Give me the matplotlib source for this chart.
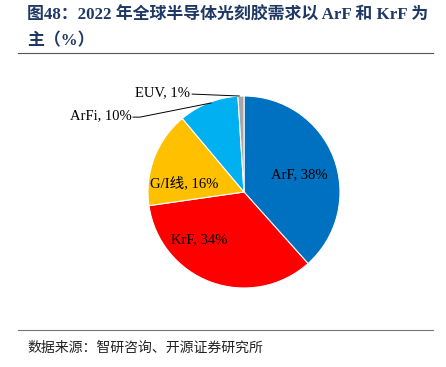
import matplotlib
matplotlib.use("Agg")
import matplotlib.pyplot as plt

labels = ["ArF", "KrF", "G/I线", "ArFi", "EUV"]
values = [38, 34, 16, 10, 1]
colors = ["#0070C0", "#FF0000", "#FFC000", "#00B0F0", "#A6A6A6"]

serif = ["Liberation Serif", "Noto Sans CJK SC"]
cjk = ["Noto Sans CJK SC", "Liberation Serif"]

fig = plt.figure(figsize=(4.46, 3.67), dpi=100)
W, H = 446, 367

def fx(x): return x / W
def fy(y): return 1 - y / H

# title
fig.text(fx(27), fy(16), "图48：2022 年全球半导体光刻胶需求以 ArF 和 KrF 为", fontsize=12.2,
         fontweight="bold", color="#1F3864", family=serif, va="center", ha="left")
fig.text(fx(27), fy(41), "主（%）", fontsize=12.2, fontweight="bold", color="#1F3864",
         family=serif, va="center", ha="left")
fig.add_artist(plt.Line2D([fx(18), fx(433)], [fy(53), fy(53)], color="#555555", lw=0.8))
fig.add_artist(plt.Line2D([fx(18), fx(433)], [fy(330), fy(330)], color="#777777", lw=0.8))
fig.text(fx(27), fy(348), "数据来源：智研咨询、开源证券研究所", fontsize=10, color="#222222",
         family=cjk, va="center", ha="left")

# pie
r = 96
cx, cy = 244, 192
ax = fig.add_axes([fx(cx - r), fy(cy + r), 2 * r / W, 2 * r / H])
wedges, _ = ax.pie(values, colors=colors, startangle=90, counterclock=False,
                   wedgeprops=dict(edgecolor="white", linewidth=0.8))
ax.set_aspect("equal")
ax.set_xlim(-1, 1)
ax.set_ylim(-1, 1)

def lab(i):
    return f"{labels[i]}, {values[i]}%"

fs = 10.5
ax.text(0.58, 0.18, lab(0), fontsize=fs, family=serif, ha="center", va="center")
ax.text(-0.47, -0.5, lab(1), fontsize=fs, family=serif, ha="center", va="center")
ax.text(-0.62, 0.09, lab(2), fontsize=fs, family=serif, ha="center", va="center")

# outside labels with leader lines
ax.text(-1.17, 0.79, lab(3), fontsize=fs, family=serif, ha="right", va="center", clip_on=False)
ax.plot([-1.156, -1.083, -0.344], [0.78, 0.78, 0.927], color="black", lw=0.7, clip_on=False)
ax.text(-0.56, 1.03, lab(4), fontsize=fs, family=serif, ha="right", va="center", clip_on=False)
ax.plot([-0.54, -0.05], [1.02, 1.0], color="black", lw=0.7, clip_on=False)

fig.savefig("out.png", dpi=100)
